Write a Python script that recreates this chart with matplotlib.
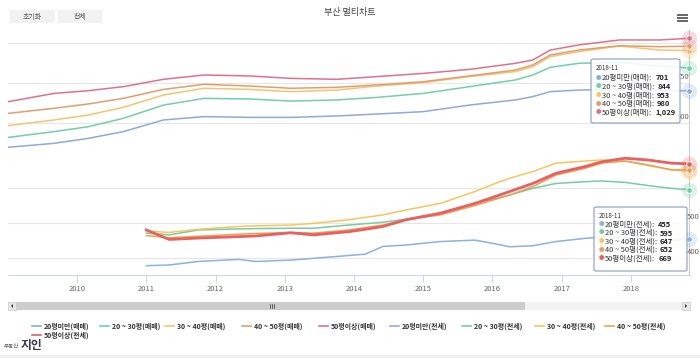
import matplotlib
matplotlib.use('Agg')
import matplotlib.pyplot as plt
import matplotlib.dates as mdates
from matplotlib.patches import Rectangle, FancyBboxPatch, Polygon
from matplotlib.lines import Line2D
import pandas as pd

plt.rcParams['font.family'] = ['Noto Sans CJK KR', 'DejaVu Sans']

# 매매 (upper pane)
sale_dates = ['2009-01', '2009-09', '2010-03', '2010-09', '2011-04', '2011-11', '2012-07',
              '2013-02', '2013-10', '2014-05', '2015-01', '2015-09', '2016-05', '2016-08',
              '2016-11', '2017-04', '2017-11', '2018-06', '2018-11']
sale_u20 = [348, 373, 404, 446, 519, 540, 535, 535, 544, 556, 571, 612, 644, 665, 696, 706, 710, 705, 701]
sale_20_30 = [410, 446, 477, 529, 612, 654, 650, 637, 644, 660, 685, 727, 769, 800, 848, 873, 879, 856, 844]
sale_30_40 = [483, 519, 550, 598, 675, 717, 710, 696, 706, 731, 752, 790, 821, 852, 915, 946, 981, 956, 953]
sale_40_50 = [560, 592, 619, 654, 710, 742, 731, 717, 723, 738, 758, 794, 831, 863, 925, 956, 983, 977, 980]
sale_50 = [633, 685, 702, 727, 773, 800, 794, 779, 773, 790, 810, 835, 873, 894, 956, 988, 1019, 1019, 1029]

# 전세 (lower pane)
rent_dates = ['2011-01', '2011-05', '2011-10', '2012-05', '2012-08', '2013-02', '2013-06', '2013-12',
              '2014-03', '2014-06', '2014-10', '2015-04', '2015-10', '2016-01', '2016-04', '2016-08',
              '2016-12', '2017-05', '2017-08', '2017-12', '2018-04', '2018-08', '2018-11']
rent_u20 = [378, 380, 390, 396, 390, 394, 399, 407, 411, 433, 437, 447, 451, 442, 432, 435, 447, 456, 460, 458, 452, 450, 455]
rent_20_30 = [471, 466, 480, 483, 484, 485, 485, 494, 498, 502, 511, 528, 556, 568, 580, 599, 613, 618, 620, 616, 607, 599, 595]
rent_30_40 = [477, 473, 482, 490, 492, 494, 499, 509, 516, 523, 537, 556, 590, 610, 628, 647, 671, 677, 680, 677, 664, 652, 647]
rent_40_50 = [464, 458, 462, 468, 470, 473, 471, 480, 487, 494, 509, 523, 550, 565, 580, 604, 637, 656, 671, 677, 666, 652, 652]
rent_50 = [480, 453, 457, 461, 463, 472, 466, 475, 482, 490, 509, 528, 556, 573, 590, 613, 642, 661, 675, 685, 680, 671, 669]

sale_names = ['20평미만(매매)', '20 ~ 30평(매매)', '30 ~ 40평(매매)', '40 ~ 50평(매매)', '50평이상(매매)']
rent_names = ['20평미만(전세)', '20 ~ 30평(전세)', '30 ~ 40평(전세)', '40 ~ 50평(전세)', '50평이상(전세)']
sale_colors = ['#8eaad8', '#72cfa6', '#f6c470', '#e09e6e', '#e0718b']
rent_colors = ['#8cb1e2', '#74cda4', '#f9c45c', '#ef9f55', '#e6615f']

W, H = 700, 358
fig = plt.figure(figsize=(7, 3.58), dpi=100)


def fx(x):
    return x / W


def fy(y):
    return 1 - y / H


pos = [fx(8), fy(275), (690 - 8) / W, (275 - 30) / H]
ax1 = fig.add_axes(pos)
ax2 = fig.add_axes(pos, sharex=ax1)
ax2.patch.set_visible(False)

sx = pd.to_datetime(sale_dates)
rx = pd.to_datetime(rent_dates)

sale_series = [sale_u20, sale_20_30, sale_30_40, sale_40_50, sale_50]
rent_series = [rent_u20, rent_20_30, rent_30_40, rent_40_50, rent_50]

for vals, c in zip(sale_series, sale_colors):
    ax1.plot(sx, vals, color=c, lw=1.1)
for i, (vals, c) in enumerate(zip(rent_series, rent_colors)):
    ax2.plot(rx, vals, color=c, lw=2.0 if i == 4 else 1.1, zorder=3 + i)

# end markers with hover halo
for vals, c in zip(sale_series, sale_colors):
    ax1.plot(sx[-1], vals[-1], 'o', ms=11, color=c, alpha=0.25, mew=0, clip_on=False)
    ax1.plot(sx[-1], vals[-1], 'o', ms=4, color=c, mec='white', mew=0.6, clip_on=False)
for vals, c in zip(rent_series, rent_colors):
    ax2.plot(rx[-1], vals[-1], 'o', ms=11, color=c, alpha=0.25, mew=0, clip_on=False, zorder=10)
    ax2.plot(rx[-1], vals[-1], 'o', ms=4, color=c, mec='white', mew=0.6, clip_on=False, zorder=11)

ax1.set_xlim(pd.Timestamp('2009-01-01'), pd.Timestamp('2018-11-08'))
ax1.set_ylim(-450, 1081.25)
ax2.set_ylim(351.4, 1051.4)

for v in [500, 750, 1000]:
    ax1.axhline(v, color='#e6e6e6', lw=0.8, zorder=0)
for v in [400, 500, 600]:
    ax2.axhline(v, color='#e6e6e6', lw=0.8, zorder=0)
ax1.axvline(sx[-1], color='#cccccc', lw=0.8, zorder=0)

for ax in (ax1, ax2):
    for s in ax.spines.values():
        s.set_visible(False)
    ax.set_yticks([])
ax2.tick_params(axis='x', bottom=False, labelbottom=False)
ax1.spines['bottom'].set_visible(True)
ax1.spines['bottom'].set_color('#ccd6eb')
ax1.set_xticks(pd.to_datetime([f'{y}-01-01' for y in range(2010, 2019)]))
ax1.xaxis.set_major_formatter(mdates.DateFormatter('%Y'))
ax1.tick_params(axis='x', length=5, color='#ccd6eb', labelsize=5.5, labelcolor='#666666', pad=2)

# y labels inside the plot
for v in [500, 750]:
    ax1.annotate(str(v), xy=(0.999, v), xycoords=ax1.get_yaxis_transform(), xytext=(0, 1.5),
                 textcoords='offset points', ha='right', va='bottom', fontsize=5.5, color='#666666')
for v in [400, 500]:
    ax2.annotate(str(v), xy=(0.996, v), xycoords=ax2.get_yaxis_transform(), xytext=(0, 1.5),
                 textcoords='offset points', ha='left', va='bottom', fontsize=5.5, color='#666666')

# title and buttons
fig.text(fx(350), fy(13), '부산 멀티차트', ha='center', va='center', fontsize=6.5, color='#444444')
for x0, x1, label in [(10, 55, '초기화'), (58, 102, '전체')]:
    fig.patches.append(Rectangle((fx(x0), fy(23)), (x1 - x0) / W, 13 / H, transform=fig.transFigure,
                                 fc='#f2f2f2', ec='none'))
    fig.text(fx((x0 + x1) / 2), fy(16.5), label, ha='center', va='center', fontsize=5, color='#555555')
for yy in [14.5, 17.5, 20.5]:
    fig.add_artist(Line2D([fx(678), fx(687)], [fy(yy), fy(yy)], color='#666666', lw=1.4,
                          transform=fig.transFigure))

# tooltips
renderer = fig.canvas.get_renderer()


def tooltip(box, header_y, rows_y, names, series, colors):
    x0, y0, x1, y1 = box
    fig.patches.append(FancyBboxPatch((fx(x0), fy(y1)), (x1 - x0) / W, (y1 - y0) / H,
                                      boxstyle='round,pad=0,rounding_size=0.004',
                                      transform=fig.transFigure, fc=(1, 1, 1, 0.88),
                                      ec='#8a9fbb', lw=0.8, zorder=20))
    fig.text(fx(x0 + 5), fy(header_y), '2018-11', fontsize=4.5, color='#333333',
             va='center', zorder=21)
    for yy, name, vals, c in zip(rows_y, names, series, colors):
        fig.text(fx(x0 + 5), fy(yy), '●', fontsize=4, color=c, va='center', zorder=21)
        t = fig.text(fx(x0 + 11), fy(yy), name + ':', fontsize=5.4, color='#333333',
                     va='center', zorder=21)
        bb = t.get_window_extent(renderer)
        fig.text(bb.x1 / W + fx(3), fy(yy), f'{vals[-1]:,}', fontsize=5.4, color='#222222',
                 fontweight='bold', va='center', zorder=21)


tooltip((591, 59, 680, 123), 68, [78, 86.7, 95.3, 104, 112.7], sale_names, sale_series, sale_colors)
tooltip((594, 207, 687, 271), 216, [224.5, 233, 241.5, 250, 258.5], rent_names, rent_series, rent_colors)

# scrollbar
fig.patches.append(Rectangle((fx(8), fy(310)), 682 / W, 8 / H, transform=fig.transFigure,
                             fc='#f2f2f2', ec='none'))
fig.patches.append(Rectangle((fx(16), fy(310)), 509 / W, 8 / H, transform=fig.transFigure,
                             fc='#cccccc', ec='none'))
for bx in [8, 682]:
    fig.patches.append(Rectangle((fx(bx), fy(310)), 8 / W, 8 / H, transform=fig.transFigure,
                                 fc='#e6e6e6', ec='#cccccc', lw=0.5))
fig.patches.append(Polygon([(fx(13), fy(304)), (fx(13), fy(308)), (fx(11), fy(306))],
                           transform=fig.transFigure, fc='#333333', ec='none'))
fig.patches.append(Polygon([(fx(685), fy(304)), (fx(685), fy(308)), (fx(687), fy(306))],
                           transform=fig.transFigure, fc='#333333', ec='none'))
for gx in [269.5, 271.5, 273.5]:
    fig.add_artist(Line2D([fx(gx), fx(gx)], [fy(304), fy(308)], color='#333333', lw=0.5,
                          transform=fig.transFigure))

# legend
legend_items = [(32, 326, 0), (100, 326, 1), (165, 326, 2), (242, 326, 3), (319, 326, 4),
                (390, 326, 5), (462, 326, 6), (535, 326, 7), (605, 326, 8), (32, 335, 9)]
all_names = sale_names + rent_names
all_colors = sale_colors + rent_colors
for lx, ly, k in legend_items:
    fig.add_artist(Line2D([fx(lx), fx(lx + 9)], [fy(ly), fy(ly)], color=all_colors[k], lw=1.2,
                          transform=fig.transFigure))
    fig.text(fx(lx + 12), fy(ly), all_names[k], fontsize=5.0, fontweight='bold', color='#333333',
             va='center')

# logo
fig.text(fx(4), fy(347), '부동산', fontsize=4, color='#555555', va='center')
fig.text(fx(21), fy(345), '지인', fontsize=8.5, fontweight='bold', color='#3a3a4a', va='center')
fig.patches.append(Rectangle((0, 0), 1, 3 / H, transform=fig.transFigure, fc='#f0f0f0', ec='none'))

fig.savefig('out.png', dpi=100)
